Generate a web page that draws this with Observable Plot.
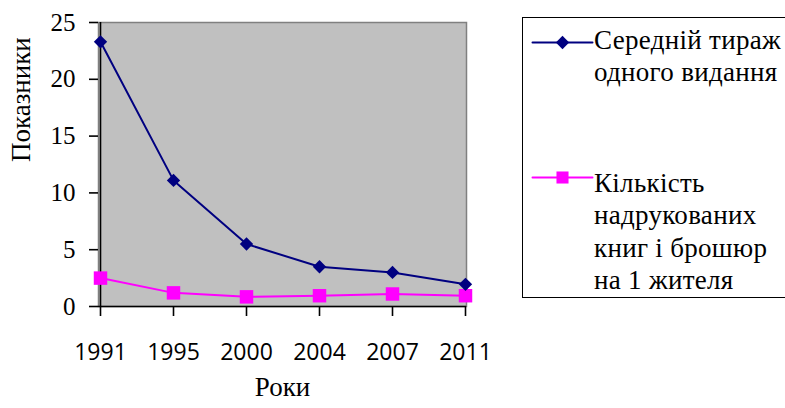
<!DOCTYPE html>
<html><head><meta charset="utf-8">
<script src="https://cdn.jsdelivr.net/npm/d3@7"></script>
<script src="https://cdn.jsdelivr.net/npm/@observablehq/plot@0.6"></script>
<style>
body{margin:0;background:#fff;}
#wrap{position:relative;width:785px;height:408px;overflow:hidden;background:#fff;}
#legend{position:absolute;left:522px;top:17px;width:290px;height:281px;border:1.6px solid #000;box-sizing:border-box;}
.ltext{position:absolute;font-family:"Liberation Serif",Tinos,"Times New Roman",serif;font-size:27px;line-height:32.5px;letter-spacing:0.3px;color:#000;white-space:nowrap;}
.lsym{position:absolute;}
</style></head>
<body><div id="wrap"></div>
<script>
const years = ["1991","1995","2000","2004","2007","2011"];
const avgCirculation = [23.3, 11.1, 5.5, 3.5, 3.0, 1.95];
const booksPerCapita = [2.5, 1.2, 0.85, 0.95, 1.1, 0.95];
const seriesNames = ["Середній тираж одного видання", "Кількість надрукованих книг і брошюр на 1 жителя"];
const legendLines = [["Середній тираж","одного видання"],["Кількість","надрукованих","книг і брошюр","на 1 жителя"]];
const yTicks = [0,5,10,15,20,25];
const xTitle = "Роки";
const yTitle = "Показники";
const colors = ["#000080","#ff00ff"];

const s1 = years.map((y,i)=>({year:y, value:avgCirculation[i]}));
const s2 = years.map((y,i)=>({year:y, value:booksPerCapita[i]}));
const serif = "'Liberation Serif', Tinos, 'Times New Roman', serif";

const chart = Plot.plot({
  width:785, height:408,
  marginLeft:98, marginRight:319, marginTop:22, marginBottom:102,
  style:{background:"transparent", color:"#000", overflow:"visible"},
  x:{type:"point", domain:years, padding:0, label:null},
  y:{domain:[0,25], label:null},
  marks:[
    Plot.frame({fill:"#c0c0c0", stroke:"#808080", strokeWidth:1.5}),
    Plot.ruleX([years[0]], {stroke:"#000", strokeWidth:1.6}),
    Plot.ruleY([0], {stroke:"#000", strokeWidth:1.6}),
    Plot.axisY({ticks:yTicks, tickSize:9, tickFormat:()=>"", label:null, strokeWidth:1.6}),
    Plot.text(yTicks, {y:d=>d, text:d=>String(d), frameAnchor:"left", textAnchor:"end", dx:-23, fontSize:25, fontFamily:serif}),
    Plot.axisX({tickSize:10, tickPadding:27, fontSize:23, fontFamily:"'Open Sans', sans-serif", label:null, strokeWidth:1.6}),
    Plot.line(s2, {x:"year", y:"value", stroke:colors[1], strokeWidth:2}),
    Plot.dot(s2, {x:"year", y:"value", symbol:"square", r:7.6, fill:colors[1], stroke:null}),
    Plot.line(s1, {x:"year", y:"value", stroke:colors[0], strokeWidth:2}),
    Plot.dot(s1, {x:"year", y:"value", symbol:"diamond2", r:6, fill:colors[0], stroke:null}),
    Plot.text([xTitle], {frameAnchor:"bottom", text:d=>d, dy:89, fontSize:27, fontFamily:serif}),
    Plot.text([yTitle], {frameAnchor:"left", text:d=>d, dx:-77, dy:-2.5, rotate:-90, fontSize:27, fontFamily:serif})
  ]
});
const wrap = document.getElementById("wrap");
wrap.appendChild(chart);

const legend = document.createElement("div");
legend.id = "legend";
wrap.appendChild(legend);

const entryLineY = [41, 176];
const textTop = [22.5, 165.5];
const symbols = ["diamond2","square"];
legendLines.forEach((lines,i)=>{
  const sym = Plot.plot({
    width:60, height:20, margin:0,
    style:{background:"transparent", overflow:"visible"},
    x:{domain:[0,56], axis:null}, y:{domain:[0,1], axis:null},
    marks:[
      Plot.lineY([{x:0,y:0.5},{x:56,y:0.5}], {x:"x", y:"y", stroke:colors[i], strokeWidth:2}),
      Plot.dot([{x:28,y:0.5}], {x:"x", y:"y", symbol:symbols[i], r: i===0?6:6.8, fill:colors[i], stroke:null})
    ]
  });
  sym.classList.add("lsym");
  sym.style.left = (531-522) + "px";
  sym.style.top = (entryLineY[i]-10-17) + "px";
  legend.appendChild(sym);
  const t = document.createElement("div");
  t.className = "ltext";
  t.style.left = (593-522) + "px";
  t.style.top = (textTop[i]-17) + "px";
  t.innerHTML = lines.join("<br>");
  legend.appendChild(t);
});
</script></body></html>
